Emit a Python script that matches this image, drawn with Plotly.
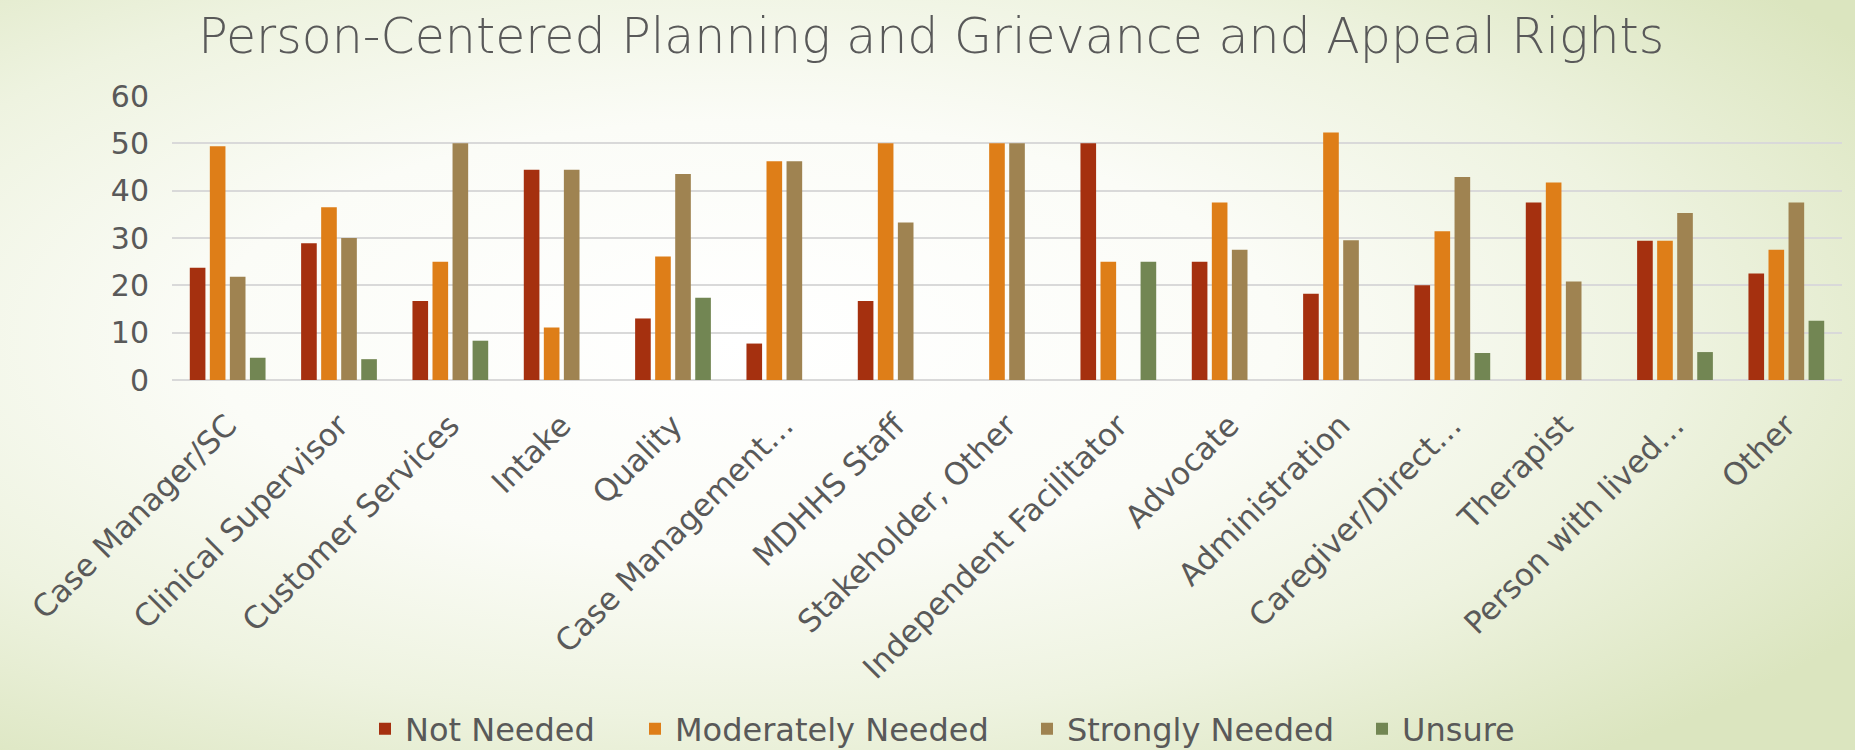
import plotly.graph_objects as go
import base64

categories = ["Case Manager/SC", "Clinical Supervisor", "Customer Services", "Intake",
              "Quality", "Case Management…", "MDHHS Staff", "Stakeholder, Other",
              "Independent Facilitator", "Advocate", "Administration", "Caregiver/Direct…",
              "Therapist", "Person with lived…", "Other"]
not_needed = [23.7, 28.9, 16.7, 44.4, 13.0, 7.7, 16.7, 0, 50.0, 25.0, 18.2, 20.0, 37.5, 29.4, 22.5]
moderately_needed = [49.4, 36.5, 25.0, 11.1, 26.1, 46.2, 50.0, 50.0, 25.0, 37.5, 52.3, 31.4, 41.7, 29.4, 27.5]
strongly_needed = [21.8, 30.0, 50.0, 44.4, 43.5, 46.2, 33.3, 50.0, 0, 27.5, 29.5, 42.9, 20.8, 35.3, 37.5]
unsure = [4.7, 4.4, 8.3, 0, 17.4, 0, 0, 0, 25.0, 0, 0, 5.7, 0, 5.9, 12.5]
y_ticks = [0, 10, 20, 30, 40, 50, 60]

series = [
    ("Not Needed", not_needed, "#A5300F"),
    ("Moderately Needed", moderately_needed, "#DE7E18"),
    ("Strongly Needed", strongly_needed, "#9F8351"),
    ("Unsure", unsure, "#728653"),
]

FONT = "DejaVu Sans"
TXT = "#595959"
W, H = 1855, 750
ML, MR, MT, MB = 172, 13, 96, 370
PW, PH = W - ML - MR, H - MT - MB

legend_names = ["legend", "legend2", "legend3", "legend4"]
legend_left_px = [365, 635, 1027, 1362]

fig = go.Figure()
for (name, vals, col), lg in zip(series, legend_names):
    fig.add_trace(go.Bar(x=categories, y=vals, name=name, legend=lg,
                         marker=dict(color=col, line=dict(width=0))))

# background gradient (white centre to pale green edges)
svg = """<svg xmlns='http://www.w3.org/2000/svg' width='1855' height='750' viewBox='0 0 1855 750' preserveAspectRatio='none'>
<defs><radialGradient id='g' cx='0.4' cy='0.45' r='0.72' gradientUnits='objectBoundingBox'>
<stop offset='0' stop-color='#ffffff'/><stop offset='0.4' stop-color='#fbfcf7'/>
<stop offset='0.7' stop-color='#eef3e0'/>
<stop offset='1' stop-color='#dbe5bf'/></radialGradient></defs>
<rect width='1855' height='750' fill='url(#g)'/></svg>"""
src = "data:image/svg+xml;base64," + base64.b64encode(svg.encode()).decode()

legend_common = dict(orientation="h", xanchor="left", yanchor="middle",
                     y=-(729 - (MT + PH)) / PH,
                     font=dict(family=FONT, size=32, color=TXT),
                     bgcolor="rgba(0,0,0,0)", borderwidth=0)
legends = {}
for lg, lx in zip(legend_names, legend_left_px):
    legends[lg] = dict(legend_common, x=(lx - ML) / PW)

fig.update_layout(
    width=W, height=H,
    paper_bgcolor="#f3f6ea", plot_bgcolor="rgba(0,0,0,0)",
    images=[dict(source=src, xref="paper", yref="paper", x=-ML / PW, y=1 + MT / PH,
                 sizex=W / PW, sizey=H / PH, xanchor="left", yanchor="top",
                 sizing="stretch", layer="below")],
    margin=dict(l=ML, r=MR, t=MT, b=MB, autoexpand=False),
    title=dict(text="Person-Centered Planning and Grievance and Appeal Rights",
               x=0.502, xref="container", xanchor="center", y=1 - 36 / H, yanchor="middle",
               font=dict(family=FONT, size=49, color=TXT, weight=200)),
    barmode="group", bargap=0.28, bargroupgap=0.22,
    showlegend=True,
    font=dict(family=FONT, color=TXT),
    **legends,
)
fig.update_xaxes(tickangle=-45, tickfont=dict(family=FONT, size=31, color=TXT),
                 showgrid=False, showline=False, ticks="", ticklabelstandoff=20)
fig.update_yaxes(range=[0, 60], tickvals=y_ticks, tickfont=dict(family=FONT, size=30, color=TXT),
                 showgrid=True, gridcolor="#d9d9d9", gridwidth=1.5, zeroline=True,
                 zerolinecolor="#d9d9d9", zerolinewidth=1.5, showline=False, ticks="",
                 ticklabelstandoff=22)

post = ("document.documentElement.style.margin='0';document.body.style.margin='0';"
        "document.documentElement.style.overflow='hidden';document.body.style.overflow='hidden';")
fig.write_html("out.html", post_script=post, config={"displayModeBar": False})
